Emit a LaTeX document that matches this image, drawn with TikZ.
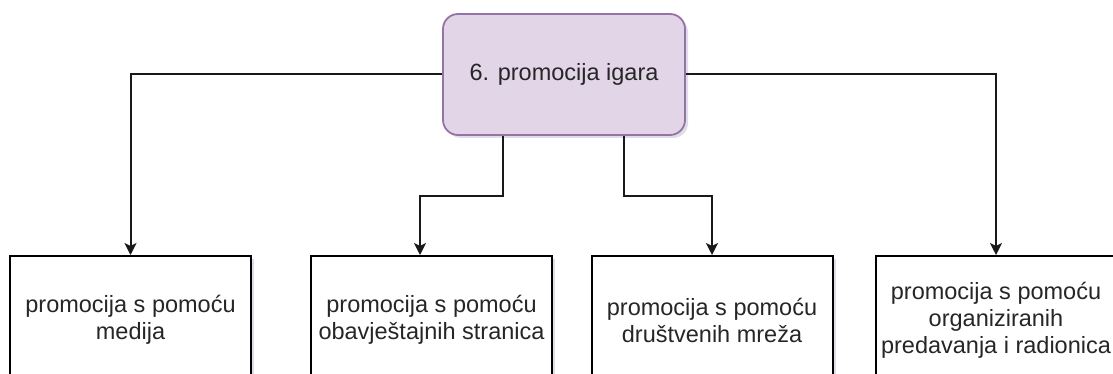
\documentclass[tikz,border=0pt]{standalone}
\usepackage{fontspec}
\setmainfont{Liberation Sans}
\usetikzlibrary{arrows.meta,shadows}
\definecolor{purplefill}{HTML}{E1D5E7}
\definecolor{purpleline}{HTML}{9673A6}
\definecolor{shadowcol}{HTML}{B8B8CC}
\tikzset{
  mainbox/.style={draw=purpleline, fill=purplefill, line width=1.8pt, rounded corners=15pt,
    minimum width=242pt, minimum height=121pt, inner sep=0pt, align=center,
    font=\fontsize{23.5}{27}\selectfont, text=black!85,
    drop shadow={shadow xshift=3pt, shadow yshift=-3pt, fill=shadowcol, opacity=0.45}},
  leafbox/.style={draw=black, fill=white, line width=2pt,
    minimum width=241pt, minimum height=128pt, inner sep=0pt, align=center,
    font=\fontsize{23.5}{27}\selectfont, text=black!85,
    drop shadow={shadow xshift=3pt, shadow yshift=-3pt, fill=shadowcol, opacity=0.45}},
  conn/.style={draw=black!90, line width=2pt, -{Stealth[length=12pt,width=12pt,inset=3pt]}},
}
\begin{document}
\begin{tikzpicture}[x=1pt,y=-1pt]
\useasboundingbox (0,0) rectangle (1113,374);
\clip (0,0) rectangle (1113,374);
\fill[white] (0,0) rectangle (1113,374);
\node[mainbox] (top) at (564,74.5) {6. promocija igara};
\node[leafbox] (b1) at (130.5,320) {promocija s pomoću\\medija};
\node[leafbox] (b2) at (431.5,320) {promocija s pomoću\\obavještajnih stranica};
\node[leafbox] (b3) at (712,320) {promocija s pomoću\\društvenih mreža};
\node[leafbox] (b4) at (996,320) {promocija s pomoću\\organiziranih\\predavanja i radionica};
\draw[conn] (top.west) -| (b1.north);
\draw[conn] (top.east) -| (b4.north);
\draw[conn] ([xshift=-61pt]top.south) -- ++(0,60) -| ([xshift=-11.5pt]b2.north);
\draw[conn] ([xshift=60pt]top.south) -- ++(0,60) -| (b3.north);
\end{tikzpicture}
\end{document}
